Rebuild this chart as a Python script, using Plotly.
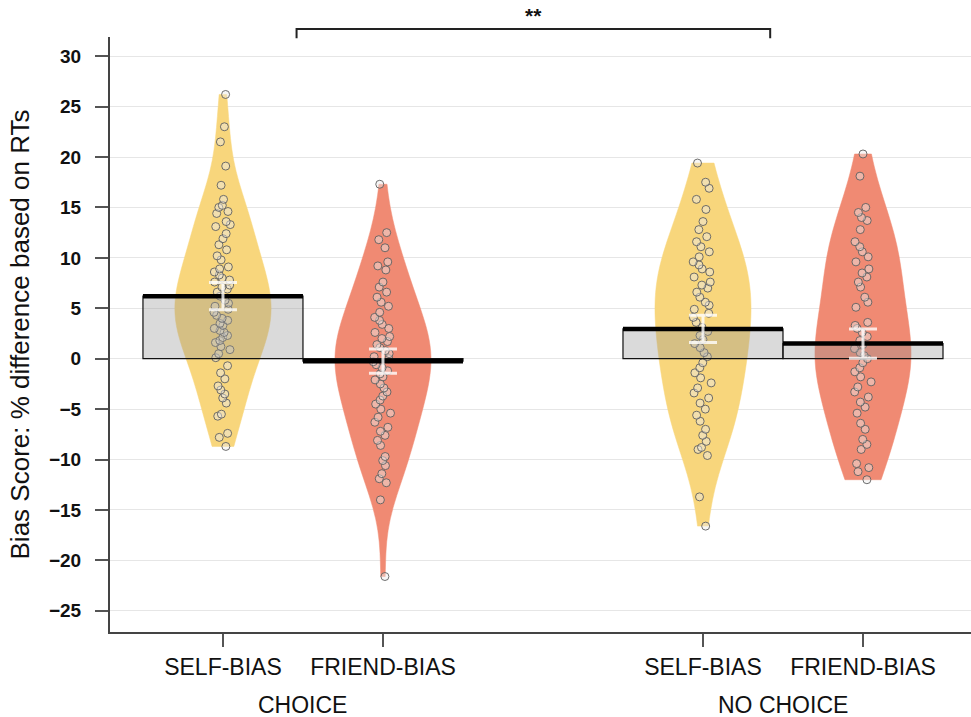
import plotly.graph_objects as go

# ---- data -------------------------------------------------------------
conditions = ["CHOICE", "NO CHOICE"]
bias_labels = ["SELF-BIAS", "FRIEND-BIAS", "SELF-BIAS", "FRIEND-BIAS"]
positions = [0, 1, 3, 4]

# individual bias scores (% difference based on RTs)
choice_self = [26.2, 23.0, 21.5, 19.1, 17.2, 15.8, 15.2, 15.0, 14.6, 14.4, 13.6, 13.3,
               13.1, 12.4, 11.9, 11.3, 10.8, 10.2, 9.8, 9.1, 8.9, 8.6, 8.3, 8.0, 7.8,
               7.6, 7.3, 7.1, 6.9, 6.6, 6.2, 5.8, 5.5, 5.2, 4.9, 4.6, 4.3, 4.0, 3.8,
               3.5, 3.3, 3.0, 2.8, 2.6, 2.3, 2.1, 1.8, 1.6, 1.2, 0.9, 0.5, 0.1, -0.7,
               -1.4, -2.0, -2.7, -3.1, -3.5, -3.9, -4.4, -5.5, -5.7, -7.4, -7.8, -8.7]
choice_friend = [17.3, 12.5, 11.8, 11.0, 9.6, 9.2, 8.8, 7.6, 7.1, 6.6, 6.1, 5.6, 5.2,
                 4.6, 4.1, 3.8, 3.4, 3.0, 2.6, 2.2, 2.0, 1.7, 1.4, 1.1, 0.8, 0.5, 0.2,
                 0.0, -0.3, -0.6, -0.9, -1.2, -1.5, -1.8, -2.1, -2.5, -2.9, -3.3, -3.7,
                 -4.1, -4.5, -5.0, -5.4, -5.8, -6.3, -6.8, -7.2, -7.6, -8.1, -8.6, -9.7,
                 -10.1, -10.6, -11.4, -11.9, -12.3, -14.0, -21.6]
nochoice_self = [19.4, 17.5, 16.9, 15.8, 14.8, 13.6, 12.8, 12.1, 11.6, 11.1, 10.6, 10.1,
                 9.6, 9.3, 8.9, 8.6, 8.1, 7.6, 7.3, 7.0, 6.6, 6.1, 5.6, 5.3, 4.9, 4.5,
                 4.1, 3.6, 3.1, 2.7, 2.3, 1.9, 1.5, 1.1, 0.6, 0.2, -0.4, -0.9, -1.4,
                 -1.9, -2.4, -2.9, -3.4, -3.9, -4.4, -5.0, -5.6, -6.2, -7.0, -7.6, -8.2,
                 -8.8, -9.0, -9.6, -13.7, -16.6]
nochoice_friend = [20.3, 18.1, 15.0, 14.5, 14.0, 13.7, 12.8, 11.6, 11.1, 10.6, 10.1, 9.6,
                   8.9, 8.5, 8.1, 7.6, 7.1, 6.1, 5.6, 5.1, 3.6, 3.3, 3.0, 2.6, 2.2, 1.8,
                   1.4, 1.0, 0.6, 0.3, 0.0, -0.4, -0.9, -1.3, -1.8, -2.3, -2.8, -3.3,
                   -3.8, -4.3, -4.8, -5.4, -6.4, -7.0, -8.0, -8.5, -9.0, -10.4, -10.8,
                   -11.2, -12.0]

group_means = [6.2, -0.25, 2.95, 1.5]
group_se = [1.35, 1.2, 1.35, 1.45]

y_ticks = [-25, -20, -15, -10, -5, 0, 5, 10, 15, 20, 25, 30]
significance = "**"

# ---- styling ----------------------------------------------------------
SELF_COLOR = "#F8D67C"
FRIEND_COLOR = "#F08A73"
FONT = "Liberation Sans, Arial, sans-serif"
X_RANGE = [-0.706, 4.675]
Y_RANGE = [-27.1, 31.9]

groups = [choice_self, choice_friend, nochoice_self, nochoice_friend]
colors = [SELF_COLOR, FRIEND_COLOR, SELF_COLOR, FRIEND_COLOR]

fig = go.Figure()

# violins with all individual points
for pos, vals, col in zip(positions, groups, colors):
    fig.add_trace(go.Violin(
        x=[pos] * len(vals), y=vals,
        fillcolor=col, line=dict(color=col, width=0.5),
        width=0.6, spanmode="hard",
        points="all", pointpos=0, jitter=0.22,
        marker=dict(size=8, color="rgba(235,235,235,0.45)",
                    line=dict(color="rgba(95,95,95,0.9)", width=1)),
        box_visible=False, meanline_visible=False,
        hoverinfo="skip", showlegend=False,
        xaxis="x", yaxis="y",
    ))

# translucent mean bars on an overlaid subplot, so they sit above the violins
fig.add_trace(go.Bar(
    x=positions, y=group_means, width=1.0,
    marker=dict(color="rgba(150,150,150,0.35)", line=dict(color="#111", width=1.2)),
    showlegend=False, hoverinfo="skip",
    xaxis="x2", yaxis="y2",
))

# thick mean line across the top of each bar
for pos, m in zip(positions, group_means):
    fig.add_trace(go.Scatter(
        x=[pos - 0.5, pos + 0.5], y=[m, m], mode="lines",
        line=dict(color="black", width=4.5),
        showlegend=False, hoverinfo="skip",
        xaxis="x2", yaxis="y2",
    ))

# standard-error bars
fig.add_trace(go.Scatter(
    x=positions, y=group_means, mode="markers",
    marker=dict(size=1, color="rgba(0,0,0,0)"),
    error_y=dict(type="data", array=group_se, visible=True,
                 color="rgba(255,255,255,0.8)", thickness=3, width=14),
    showlegend=False, hoverinfo="skip",
    xaxis="x2", yaxis="y2",
))

# significance bracket between the two conditions
bx0, bx1 = 0.46, 3.42
to_paper = lambda v: (v - X_RANGE[0]) / (X_RANGE[1] - X_RANGE[0])
fig.add_shape(type="path", xref="paper", yref="paper",
              path=f"M {to_paper(bx0)},0.998 L {to_paper(bx0)},1.0134 "
                   f"L {to_paper(bx1)},1.0134 L {to_paper(bx1)},0.998",
              line=dict(color="#222", width=2))
fig.add_annotation(x=(bx0 + bx1) / 2, xref="x", y=1.036, yref="paper",
                   yanchor="middle",
                   text=f"<b>{significance}</b>", showarrow=False,
                   font=dict(family=FONT, size=21, color="#111"))

# condition labels centred under each pair of tick labels
for name, (a, b) in zip(conditions, [(0, 1), (2, 3)]):
    fig.add_annotation(x=(positions[a] + positions[b]) / 2,
                       xref="x", y=-0.123, yref="paper", yanchor="middle",
                       text=name, showarrow=False,
                       font=dict(family=FONT, size=23, color="#111"))

fig.update_layout(
    width=971, height=717,
    margin=dict(l=110, r=0, t=37, b=85),
    paper_bgcolor="white", plot_bgcolor="white",
    violinmode="overlay", barmode="overlay",
    xaxis=dict(range=X_RANGE, tickvals=positions, ticktext=bias_labels,
               ticks="outside", ticklen=13, tickwidth=2, tickcolor="#555",
               showline=True, linecolor="#444", linewidth=2,
               showgrid=False, zeroline=False,
               tickfont=dict(family=FONT, size=23, color="#111")),
    yaxis=dict(range=Y_RANGE, tickvals=y_ticks,
               ticks="outside", ticklen=13, tickwidth=2, tickcolor="#555",
               showline=True, linecolor="#444", linewidth=2,
               showgrid=True, gridcolor="#E6E6E6", gridwidth=1, zeroline=False,
               ticklabelstandoff=10,
               tickfont=dict(family=FONT, size=19, color="#111", weight="bold"),
               title=dict(text="Bias Score: % difference based on RTs",
                          font=dict(family=FONT, size=26, color="#111"),
                          standoff=12)),
    xaxis2=dict(range=X_RANGE, overlaying="x", visible=False),
    yaxis2=dict(range=Y_RANGE, overlaying="y", visible=False),
)

fig.write_html("out.html")
